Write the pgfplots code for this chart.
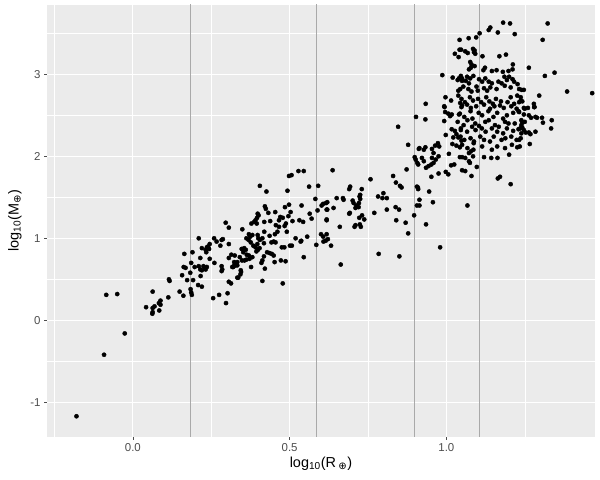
\documentclass[border=0pt]{standalone}
\usepackage{pgfplots}
\usepackage{pgfplotstable}
\usepackage{fontspec}
\pgfplotsset{compat=1.18}
\setmainfont{Liberation Sans}
\newfontfamily\djv{DejaVu Sans}
\definecolor{panel}{HTML}{EBEBEB}
\definecolor{ticktext}{HTML}{4D4D4D}
\definecolor{vline}{HTML}{A9A9A9}

% planets: log10 radius vs log10 mass
\pgfplotstableread{
x y
-0.18 -1.17
-0.092 -0.42
-0.026 -0.16
-0.085 0.31
-0.05 0.32
0.296 1.19
0.306 1.13
0.259 1.00
0.21 1.00
0.283 0.98
0.287 0.99
0.267 0.96
0.245 0.93
0.24 0.90
0.236 0.89
0.243 0.87
0.232 0.86
0.22 0.88
0.279 0.91
0.306 0.93
0.19 0.83
0.164 0.81
0.234 0.83
0.215 0.76
0.245 0.75
0.26 0.70
0.314 0.80
0.306 0.76
0.323 0.71
0.186 0.70
0.197 0.65
0.21 0.66
0.215 0.62
0.225 0.66
0.23 0.64
0.22 0.61
0.232 0.62
0.236 0.65
0.162 0.65
0.168 0.64
0.283 0.66
0.283 0.60
0.285 0.62
0.317 0.65
0.321 0.66
0.333 0.67
0.344 0.61
0.183 0.58
0.157 0.55
0.216 0.54
0.173 0.49
0.192 0.49
0.115 0.50
0.117 0.48
0.333 0.52
0.306 0.47
0.313 0.45
0.208 0.43
0.22 0.41
0.184 0.38
0.186 0.34
0.188 0.31
0.149 0.35
0.161 0.30
0.063 0.35
0.113 0.28
0.088 0.24
0.083 0.21
0.088 0.19
0.069 0.17
0.063 0.15
0.042 0.16
0.063 0.10
0.062 0.08
0.084 0.12
0.256 0.27
0.275 0.31
0.302 0.33
0.297 0.21
0.498 1.76
0.506 1.77
0.528 1.82
0.545 1.82
0.405 1.64
0.426 1.57
0.493 1.58
0.562 1.63
0.591 1.64
0.582 1.48
0.602 1.40
0.616 1.43
0.618 1.35
0.618 1.22
0.589 1.34
0.538 1.40
0.498 1.41
0.485 1.38
0.421 1.39
0.424 1.36
0.398 1.30
0.396 1.25
0.401 1.28
0.432 1.31
0.454 1.32
0.47 1.26
0.478 1.25
0.466 1.22
0.503 1.32
0.496 1.27
0.509 1.21
0.531 1.22
0.543 1.20
0.564 1.30
0.57 1.24
0.387 1.20
0.391 1.22
0.378 1.18
0.395 1.18
0.419 1.20
0.438 1.21
0.456 1.16
0.466 1.14
0.484 1.15
0.488 1.18
0.461 1.08
0.453 1.05
0.491 1.08
0.349 1.11
0.37 1.05
0.362 1.00
0.374 1.02
0.381 1.04
0.398 1.04
0.40 1.00
0.405 0.98
0.413 1.00
0.418 0.94
0.419 1.08
0.436 1.03
0.442 0.95
0.449 0.96
0.455 0.95
0.519 1.00
0.537 0.97
0.535 0.96
0.556 1.02
0.501 0.91
0.507 0.91
0.475 0.89
0.483 0.89
0.369 0.98
0.376 0.95
0.384 0.91
0.391 0.89
0.397 0.93
0.399 0.86
0.404 0.88
0.394 0.84
0.347 0.87
0.355 0.88
0.36 0.86
0.352 0.83
0.363 0.80
0.37 0.79
0.325 0.79
0.333 0.71
0.341 0.77
0.348 0.73
0.356 0.73
0.362 0.74
0.372 0.75
0.381 0.77
0.428 0.83
0.436 0.82
0.443 0.81
0.449 0.79
0.418 0.78
0.413 0.73
0.410 0.70
0.452 0.71
0.472 0.73
0.487 0.72
0.545 0.77
0.32 0.65
0.328 0.67
0.377 0.65
0.345 0.59
0.343 0.56
0.336 0.52
0.421 0.63
0.413 0.48
0.478 0.45
0.585 0.92
0.60 1.05
0.607 1.02
0.618 1.05
0.622 0.99
0.632 0.91
0.608 0.96
0.615 0.97
0.846 2.36
0.878 2.14
0.912 2.09
0.902 1.96
0.91 1.90
0.873 1.84
0.637 1.83
0.758 1.72
0.83 1.76
0.839 1.68
0.852 1.64
0.857 1.62
0.909 1.62
0.693 1.63
0.69 1.60
0.73 1.60
0.725 1.53
0.723 1.51
0.725 1.48
0.701 1.46
0.704 1.43
0.692 1.31
0.71 1.37
0.713 1.40
0.72 1.38
0.721 1.43
0.65 1.49
0.67 1.49
0.672 1.47
0.607 1.42
0.62 1.44
0.62 1.35
0.64 1.37
0.618 1.23
0.66 1.14
0.69 1.30
0.722 1.25
0.731 1.28
0.738 1.23
0.71 1.16
0.707 1.14
0.724 1.17
0.727 1.14
0.663 0.68
0.782 1.51
0.799 1.55
0.796 1.49
0.81 1.49
0.77 1.31
0.81 1.35
0.838 1.38
0.849 1.35
0.84 1.22
0.87 1.19
0.878 1.06
0.897 1.28
0.784 0.81
0.85 0.78
0.906 1.40
0.914 1.40
0.935 1.17
0.98 0.89
1.067 1.40
1.042 3.42
1.042 3.30
1.027 3.25
1.039 3.21
0.987 2.99
1.02 2.96
1.036 2.93
1.04 2.95
1.046 2.98
1.05 2.92
1.038 2.80
0.997 2.72
1.015 2.68
1.044 2.65
1.05 2.62
0.934 2.64
0.993 2.61
1.181 3.63
1.203 3.62
1.14 3.57
1.135 3.54
1.164 3.51
1.106 3.50
1.218 3.49
1.071 3.44
1.095 3.45
1.085 3.31
1.09 3.29
1.088 3.27
1.092 3.25
1.047 3.30
1.060 3.28
1.068 3.26
1.169 3.22
1.19 3.24
1.115 3.22
1.076 3.15
1.08 3.12
1.09 3.10
1.078 3.08
1.072 3.06
1.212 3.12
1.123 3.08
1.118 3.05
1.145 3.04
1.160 3.05
1.18 3.03
1.198 3.04
1.211 3.06
1.05 2.95
1.066 2.97
1.076 2.95
1.086 2.98
1.062 2.92
1.072 2.89
1.185 2.97
1.20 2.97
1.193 2.93
1.211 2.94
1.216 2.91
1.104 2.94
1.114 2.91
1.135 2.91
1.124 2.95
1.145 2.89
1.166 2.91
1.176 2.89
1.054 2.85
1.096 2.85
1.044 2.82
1.07 2.82
1.08 2.79
1.10 2.80
1.12 2.83
1.13 2.80
1.14 2.84
1.16 2.82
1.186 2.86
1.205 2.84
1.227 2.88
1.232 2.82
1.323 3.62
1.307 3.42
1.263 3.08
1.314 2.98
1.345 3.02
1.385 2.79
1.465 2.77
1.296 2.74
1.24 2.81
1.247 2.81
1.237 2.72
1.242 2.67
1.232 2.66
1.279 2.64
1.281 2.60
1.247 2.59
1.038 2.74
1.048 2.70
1.059 2.66
1.075 2.72
1.085 2.68
1.101 2.70
1.111 2.66
1.127 2.72
1.137 2.67
1.148 2.64
1.158 2.70
1.174 2.67
1.195 2.66
1.205 2.72
1.216 2.64
1.226 2.74
1.237 2.68
1.048 2.60
1.066 2.63
1.078 2.59
1.095 2.61
1.120 2.63
1.139 2.58
1.153 2.61
1.171 2.62
1.183 2.59
1.207 2.61
1.224 2.58
1.043 2.52
1.057 2.48
1.077 2.55
1.083 2.46
1.103 2.53
1.114 2.50
1.134 2.55
1.150 2.48
1.162 2.53
1.181 2.46
1.193 2.50
1.213 2.53
1.230 2.55
1.036 2.42
1.055 2.38
1.067 2.44
1.092 2.40
1.104 2.37
1.124 2.42
1.135 2.44
1.155 2.38
1.167 2.36
1.187 2.42
1.198 2.40
1.218 2.40
1.239 2.44
1.046 2.34
1.066 2.30
1.082 2.36
1.093 2.32
1.113 2.34
1.125 2.30
1.145 2.34
1.162 2.30
1.181 2.28
1.193 2.34
1.213 2.31
1.230 2.33
1.045 2.24
1.057 2.20
1.077 2.22
1.088 2.18
1.108 2.24
1.120 2.20
1.139 2.18
1.151 2.24
1.176 2.20
1.188 2.22
1.207 2.24
1.224 2.20
1.050 2.14
1.067 2.10
1.087 2.16
1.114 2.12
1.145 2.08
1.162 2.12
1.187 2.10
1.209 2.14
1.234 2.12
1.017 2.33
1.027 2.31
1.032 2.27
1.046 2.32
1.022 2.23
1.038 2.23
1.048 2.19
1.019 2.15
1.032 2.13
1.043 2.11
0.996 2.54
1.006 2.52
1.017 2.51
1.012 2.49
0.994 2.60
1.04 2.51
0.903 2.48
0.933 2.45
0.993 2.43
0.998 2.26
0.914 2.10
0.928 2.08
0.933 2.11
0.954 2.09
0.964 2.13
0.973 2.16
0.977 2.12
0.959 2.04
0.954 1.98
0.966 1.96
0.975 2.00
0.922 1.98
0.928 1.94
0.935 1.86
0.943 1.88
0.952 1.90
0.959 1.92
0.899 1.99
0.907 1.92
1.008 2.03
1.043 1.99
1.015 1.89
1.025 1.90
0.975 1.79
0.952 1.75
0.998 1.81
1.006 1.78
0.906 1.63
0.910 1.60
0.945 1.57
0.914 1.47
0.957 1.44
1.05 1.99
1.06 1.98
1.085 2.00
1.12 1.99
1.143 1.98
1.163 1.98
1.20 2.02
1.078 2.06
1.072 2.04
1.086 2.08
1.072 1.94
1.075 1.92
1.05 1.83
1.06 1.82
1.097 1.87
1.08 1.76
1.164 1.73
1.171 1.75
1.205 1.66
1.25 2.58
1.26 2.59
1.28 2.60
1.232 2.54
1.247 2.51
1.263 2.50
1.27 2.47
1.284 2.48
1.289 2.47
1.305 2.47
1.308 2.41
1.336 2.44
1.334 2.34
1.242 2.41
1.25 2.42
1.239 2.38
1.242 2.35
1.235 2.34
1.247 2.32
1.253 2.29
1.239 2.28
1.263 2.29
1.268 2.27
1.284 2.30
1.237 2.22
1.232 2.20
1.226 2.11
1.266 2.15
}\pts

\begin{document}
\begin{tikzpicture}
\begin{axis}[
  scale only axis,
  width=548bp, height=432bp,
  xmin=-0.274, xmax=1.474,
  ymin=-1.423, ymax=3.845,
  axis background/.style={fill=panel},
  axis line style={draw=none},
  xtick={0,0.5,1}, ytick={-1,0,1,2,3},
  minor xtick={-0.25,0.25,0.75,1.25},
  minor ytick={-0.5,0.5,1.5,2.5,3.5},
  xtick pos=bottom, ytick pos=left,
  grid=both,
  major grid style={white, line width=1.1bp},
  minor grid style={white, line width=0.5bp},
  tick align=outside,
  major tick length=3bp, minor tick length=0pt,
  tick style={ticktext, line width=0.5bp},
  xticklabel style={/pgf/number format/.cd, fixed, fixed zerofill, precision=1},
  /pgf/number format/assume math mode=true,
  ticklabel style={font=\fontsize{11.5}{13}\selectfont, text=ticktext},
  xlabel={log\textsubscript{10}(R\,\textsubscript{\djv ⊕})},
  ylabel={log\textsubscript{10}(M\textsubscript{\djv ⊕})},
  label style={font=\fontsize{14.5}{16}\selectfont},
  xlabel style={at={(axis description cs:0.5,-0.039)}, anchor=north},
  ylabel style={at={(axis description cs:-0.04,0.5)}, anchor=south},
  clip=true,
]
\addplot[only marks, mark=*, mark size=2.1bp, black] table {\pts};
\addplot[vline, line width=0.9bp] coordinates {(0.184,-2) (0.184,4)};
\addplot[vline, line width=0.9bp] coordinates {(0.585,-2) (0.585,4)};
\addplot[vline, line width=0.9bp] coordinates {(0.899,-2) (0.899,4)};
\addplot[vline, line width=0.9bp] coordinates {(1.106,-2) (1.106,4)};
\end{axis}
\pgfresetboundingbox
\path ([shift={(-47bp,-43bp)}]current axis.south west) rectangle ([shift={(5bp,5bp)}]current axis.north east);
\end{tikzpicture}
\end{document}
